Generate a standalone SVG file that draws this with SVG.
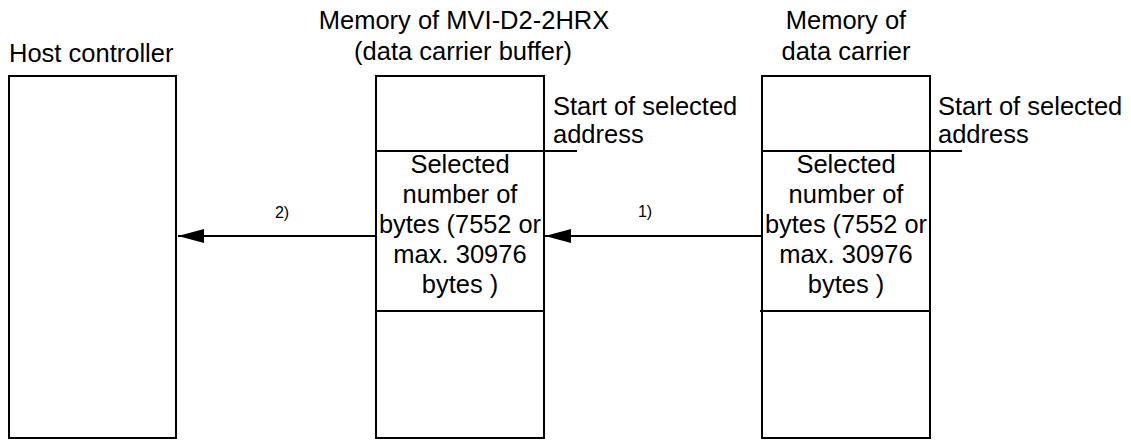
<svg xmlns="http://www.w3.org/2000/svg" width="1131" height="440" viewBox="0 0 1131 440">
<style>
.box{fill:#fff;stroke:#000;stroke-width:2}
.ln{stroke:#000;stroke-width:2;fill:none}
.t{font-family:"Liberation Sans",Arial,sans-serif;font-size:25.5px;fill:#000}
.c{text-anchor:middle}
.s{font-family:"Liberation Sans",Arial,sans-serif;font-size:16px;fill:#000;text-anchor:middle}
</style>
<defs>
<marker id="ah" markerWidth="26" markerHeight="14" refX="26" refY="7" orient="auto" markerUnits="userSpaceOnUse">
<path d="M0,0 L26,7 L0,14 Z" fill="#000"/>
</marker>
</defs>
<rect width="1131" height="440" fill="#fff"/>
<g id="host">
<rect class="box" x="9" y="76" width="167" height="362"/>
<text class="t" x="9" y="62">Host controller</text>
</g>
<g id="buffer">
<rect class="box" x="376" y="76" width="168" height="362"/>
<line class="ln" x1="376" y1="151" x2="577" y2="151"/>
<line class="ln" x1="376" y1="311" x2="544" y2="311"/>
<text class="t c" x="464" y="29">Memory of MVI-D2-2HRX</text>
<text class="t c" x="463" y="60">(data carrier buffer)</text>
<text class="t" x="553" y="115">Start of selected</text>
<text class="t" x="553" y="143">address</text>
<text class="t c" x="460" y="173">Selected</text>
<text class="t c" x="460" y="203">number of</text>
<text class="t c" x="460" y="233" textLength="162" lengthAdjust="spacingAndGlyphs">bytes (7552 or</text>
<text class="t c" x="460" y="263">max. 30976</text>
<text class="t c" x="460" y="293">bytes )</text>
</g>
<g id="carrier">
<rect class="box" x="762" y="76" width="168" height="362"/>
<line class="ln" x1="762" y1="151" x2="962" y2="151"/>
<line class="ln" x1="760" y1="311" x2="930" y2="311"/>
<text class="t c" x="846" y="29">Memory of</text>
<text class="t c" x="846" y="60">data carrier</text>
<text class="t" x="938" y="115">Start of selected</text>
<text class="t" x="938" y="143">address</text>
<text class="t c" x="846" y="173">Selected</text>
<text class="t c" x="846" y="203">number of</text>
<text class="t c" x="846" y="233" textLength="162" lengthAdjust="spacingAndGlyphs">bytes (7552 or</text>
<text class="t c" x="846" y="263">max. 30976</text>
<text class="t c" x="846" y="293">bytes )</text>
</g>
<g id="connectors">
<line class="ln" x1="762" y1="236" x2="545" y2="236" marker-end="url(#ah)"/>
<line class="ln" x1="376" y1="236" x2="178" y2="236" marker-end="url(#ah)"/>
<text class="s" x="645" y="217">1)</text>
<text class="s" x="282" y="218">2)</text>
</g>
</svg>
